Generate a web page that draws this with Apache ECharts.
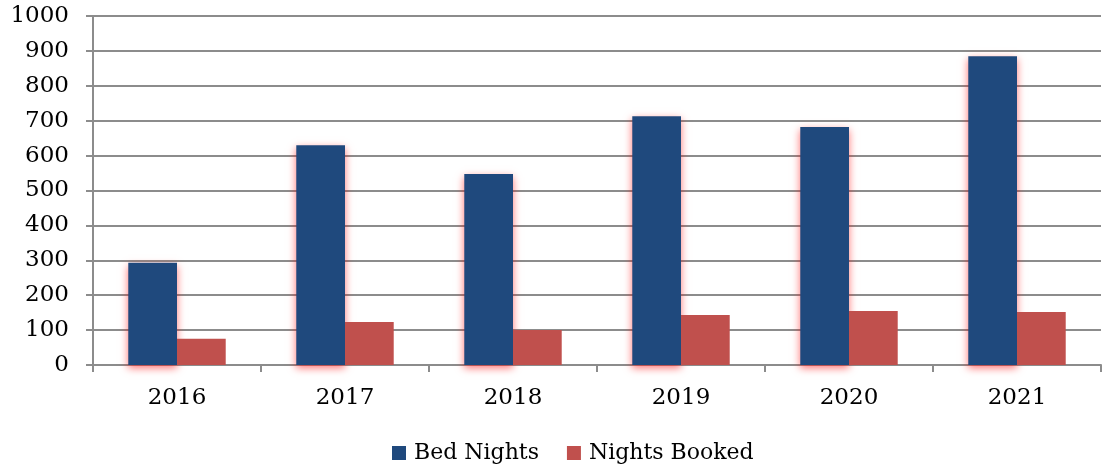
<!DOCTYPE html>
<html>
<head>
<meta charset="utf-8">
<script src="https://cdn.jsdelivr.net/npm/echarts@6/dist/echarts.min.js"></script>
<style>
  html, body { margin: 0; padding: 0; background: #fff; }
  #chart { width: 1111px; height: 471px; }
</style>
</head>
<body>
<div id="chart"></div>
<script>
const years = ["2016", "2017", "2018", "2019", "2020", "2021"];
const bedNights = [293, 630, 547, 713, 682, 885];
const nightsBooked = [75, 123, 100, 143, 155, 152];

const font = "DejaVu Serif";
const lineGray = "#8c8c8c";

let myChart = echarts.init(document.getElementById("chart"));
myChart.setOption({
  animation: false,
  grid: {
    left: 93,
    right: 10,
    top: 16,
    bottom: 106
  },
  legend: {
    bottom: 2,
    left: 387,
    itemWidth: 14,
    itemHeight: 14,
    itemGap: 28,
    icon: "rect",
    textStyle: {
      fontFamily: font,
      fontSize: 22,
      color: "#000",
      padding: [0, 0, 0, 3]
    },
    data: ["Bed Nights", "Nights Booked"]
  },
  xAxis: {
    type: "category",
    data: years,
    axisLine: { lineStyle: { color: lineGray, width: 2 } },
    axisTick: { show: true, length: 7, lineStyle: { color: lineGray, width: 2 } },
    axisLabel: {
      margin: 22,
      color: "#000",
      fontFamily: font,
      fontSize: 23
    }
  },
  yAxis: {
    type: "value",
    min: 0,
    max: 1000,
    interval: 100,
    axisLine: { show: true, lineStyle: { color: lineGray, width: 2 } },
    axisTick: { show: true, length: 7, lineStyle: { color: lineGray, width: 2 } },
    splitLine: { lineStyle: { color: lineGray, width: 2 } },
    axisLabel: {
      margin: 24,
      color: "#000",
      fontFamily: font,
      fontSize: 23,
      formatter: function (v) { return String(v); }
    }
  },
  series: [
    {
      name: "Bed Nights",
      type: "bar",
      data: bedNights,
      barGap: "0%",
      barCategoryGap: "42%",
      itemStyle: {
        color: "#1f497d",
        shadowBlur: 8,
        shadowColor: "rgba(255,0,0,0.55)",
        shadowOffsetY: 3
      }
    },
    {
      name: "Nights Booked",
      type: "bar",
      data: nightsBooked,
      itemStyle: {
        color: "#c0504d"
      }
    }
  ]
});
</script>
</body>
</html>
